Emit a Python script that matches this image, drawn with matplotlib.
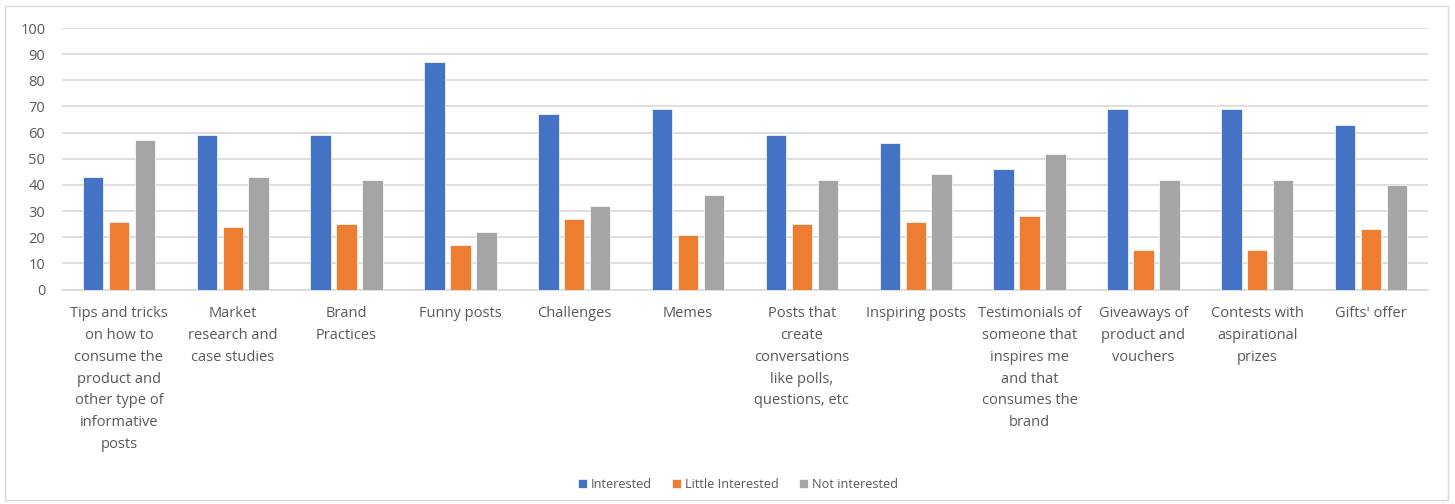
import numpy as np
import matplotlib
matplotlib.use("Agg")
import matplotlib.pyplot as plt
from matplotlib.patches import Rectangle

categories = [
    "Tips and tricks\non how to\nconsume the\nproduct and\nother type of\ninformative\nposts",
    "Market\nresearch and\ncase studies",
    "Brand\nPractices",
    "Funny posts",
    "Challenges",
    "Memes",
    "Posts that\ncreate\nconversations\nlike polls,\nquestions, etc",
    "Inspiring posts",
    "Testimonials of\nsomeone that\ninspires me\nand that\nconsumes the\nbrand",
    "Giveaways of\nproduct and\nvouchers",
    "Contests with\naspirational\nprizes",
    "Gifts' offer",
]
interested = [43, 59, 59, 87, 67, 69, 59, 56, 46, 69, 69, 63]
little_interested = [26, 24, 25, 17, 27, 21, 25, 26, 28, 15, 15, 23]
not_interested = [57, 43, 42, 22, 32, 36, 42, 44, 52, 42, 42, 40]

series = [
    ("Interested", interested, "#4472C4"),
    ("Little Interested", little_interested, "#ED7D31"),
    ("Not interested", not_interested, "#A5A5A5"),
]

plt.rcParams['font.family'] = ['Open Sans', 'DejaVu Sans']

fig = plt.figure(figsize=(14.55, 5.04), dpi=100)
# thin outer frame like the Excel chart area
fig.patches.append(Rectangle((5 / 1455, 4 / 504), 1443 / 1455, 494 / 504,
                             transform=fig.transFigure, fill=False,
                             edgecolor="#D9D9D9", linewidth=1))

ax = fig.add_axes([62 / 1455, 1 - 289.5 / 504, 1366 / 1455, 261.5 / 504])

x = np.arange(len(categories))
width = 0.18
step = 0.228
for i, (name, vals, color) in enumerate(series):
    ax.bar(x + (i - 1) * step, vals, width, color=color, label=name,
           edgecolor="white", linewidth=0.5, zorder=3)

ax.set_xlim(-0.5, len(categories) - 0.5)
ax.set_ylim(0, 100)
ax.set_yticks(range(0, 101, 10))
ax.yaxis.grid(True, color="#D9D9D9", linewidth=1.2, zorder=0)
ax.set_axisbelow(True)
for s in ["top", "right", "left"]:
    ax.spines[s].set_visible(False)
ax.spines["bottom"].set_color("#D9D9D9")
ax.spines["bottom"].set_linewidth(1.2)
ax.tick_params(axis="both", length=0, labelsize=10.5, labelcolor="#595959")
ax.tick_params(axis="y", pad=12)
ax.tick_params(axis="x", pad=12)
ax.set_xticks(x)
ax.set_xticklabels(categories, va="top", ha="center", linespacing=1.62)

ax.legend(loc="center", bbox_to_anchor=(0.495, -0.745), ncol=3,
          frameon=False, fontsize=9.2, handlelength=0.7, handleheight=0.7,
          columnspacing=1.6, handletextpad=0.3, labelcolor="#595959")

fig.savefig("out.png", dpi=100)
